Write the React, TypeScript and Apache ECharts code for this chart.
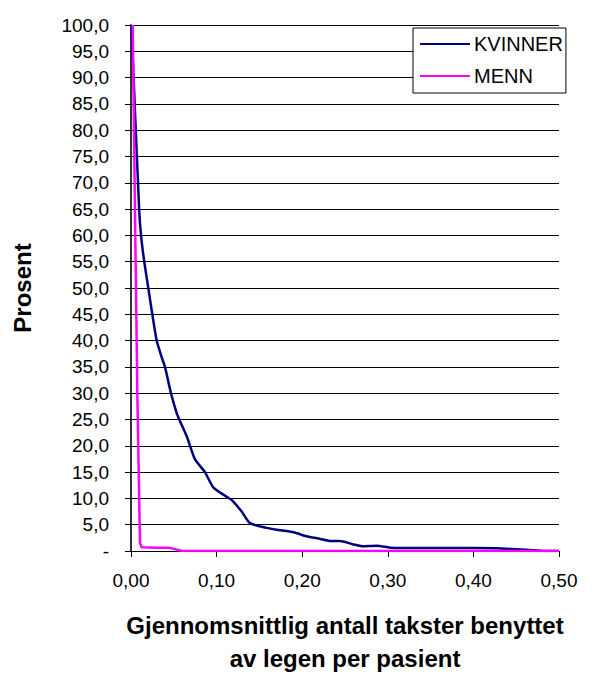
import React, { useEffect, useRef } from "react";
import * as echarts from "echarts";

// Average number of fee codes used by the physician per patient (x) vs. percent (y)
const kvinnerX = [0.0005, 0.0095, 0.0117, 0.0155, 0.0202, 0.0249, 0.030, 0.0359, 0.0397, 0.0467, 0.0534, 0.0564, 0.0651, 0.0689, 0.0748, 0.0864, 0.0961, 0.1137, 0.1176, 0.1293, 0.139, 0.1585, 0.170, 0.190, 0.205, 0.221, 0.2325, 0.244, 0.260, 0.270, 0.287, 0.3026, 0.318, 0.40, 0.427, 0.462, 0.484, 0.5];
const kvinnerY = [100, 65, 60, 55, 50, 45, 40, 36.8, 35, 30, 26.2, 25, 21.8, 20, 17.4, 15, 12.1, 10.1, 9.7, 7.5, 5.3, 4.4, 4.05, 3.55, 2.8, 2.3, 1.9, 1.9, 1.25, 0.9, 1.0, 0.63, 0.58, 0.58, 0.5, 0.25, 0.0, 0.0];

const mennX = [0.002, 0.0047, 0.0074, 0.0105, 0.0125, 0.03, 0.045, 0.06, 0.5];
const mennY = [100, 64, 30, 1.5, 0.7, 0.6, 0.6, 0.0, 0.0];

const seriesNames = ["KVINNER", "MENN"];
const seriesColors = ["#000080", "#FF00FF"];

const yTitle = "Prosent";
const xTitle = "Gjennomsnittlig antall takster benyttet\nav legen per pasient";

const FONT = "Arial, 'Liberation Sans', sans-serif";

const pairs = (xs: number[], ys: number[]) => xs.map((x, i) => [x, ys[i]]);

export default function App() {
  const ref = useRef<HTMLDivElement>(null);

  useEffect(() => {
    document.body.style.margin = "0";
    if (!ref.current) return;
    const chart = echarts.init(ref.current, null, { renderer: "svg" });
    chart.setOption({
      animation: false,
      backgroundColor: "#ffffff",
      grid: { left: 131, right: 51, top: 25, bottom: 120, containLabel: false },
      legend: {
        orient: "vertical",
        left: 413,
        top: 28,
        padding: [6, 3, 7, 7],
        itemGap: 12,
        itemWidth: 50,
        itemHeight: 2,
        icon: "rect",
        borderColor: "#000",
        borderWidth: 1,
        borderRadius: 0,
        backgroundColor: "#fff",
        textStyle: { fontFamily: FONT, fontSize: 20, color: "#000", padding: [0, 0, 0, -1] },
        data: seriesNames,
      },
      xAxis: {
        type: "value",
        min: 0,
        max: 0.5,
        interval: 0.1,
        name: xTitle,
        nameLocation: "middle",
        nameGap: 58,
        nameTextStyle: { fontFamily: FONT, fontSize: 24, fontWeight: "bold", color: "#000", lineHeight: 33 },
        axisLine: { show: true, lineStyle: { color: "#000", width: 1 } },
        axisTick: { show: true, inside: false, length: 6, lineStyle: { color: "#000" } },
        axisLabel: {
          fontFamily: FONT,
          fontSize: 19,
          color: "#000",
          margin: 20,
          formatter: (v: number) => v.toFixed(2).replace(".", ","),
        },
        splitLine: { show: false },
      },
      yAxis: {
        type: "value",
        min: 0,
        max: 100,
        interval: 5,
        name: yTitle,
        nameLocation: "middle",
        nameGap: 97,
        nameRotate: 90,
        nameTextStyle: { fontFamily: FONT, fontSize: 24, fontWeight: "bold", color: "#000" },
        axisLine: { show: true, lineStyle: { color: "#333", width: 2 } },
        axisTick: { show: true, inside: false, length: 6, lineStyle: { color: "#000" } },
        axisLabel: {
          fontFamily: FONT,
          fontSize: 19,
          color: "#000",
          margin: 22,
          formatter: (v: number) => (v === 0 ? "-" : v.toFixed(1).replace(".", ",")),
        },
        splitLine: { show: true, lineStyle: { color: "#000", width: 1 } },
      },
      series: [
        {
          name: seriesNames[0],
          type: "line",
          data: pairs(kvinnerX, kvinnerY),
          showSymbol: false,
          smooth: 0.2,
          lineStyle: { color: seriesColors[0], width: 2.5 },
          itemStyle: { color: seriesColors[0] },
          z: 3,
        },
        {
          name: seriesNames[1],
          type: "line",
          data: pairs(mennX, mennY),
          showSymbol: false,
          smooth: false,
          lineStyle: { color: seriesColors[1], width: 2.5 },
          itemStyle: { color: seriesColors[1] },
          z: 4,
        },
      ],
    });
    return () => chart.dispose();
  }, []);

  return <div ref={ref} style={{ width: 610, height: 680 }} />;
}
